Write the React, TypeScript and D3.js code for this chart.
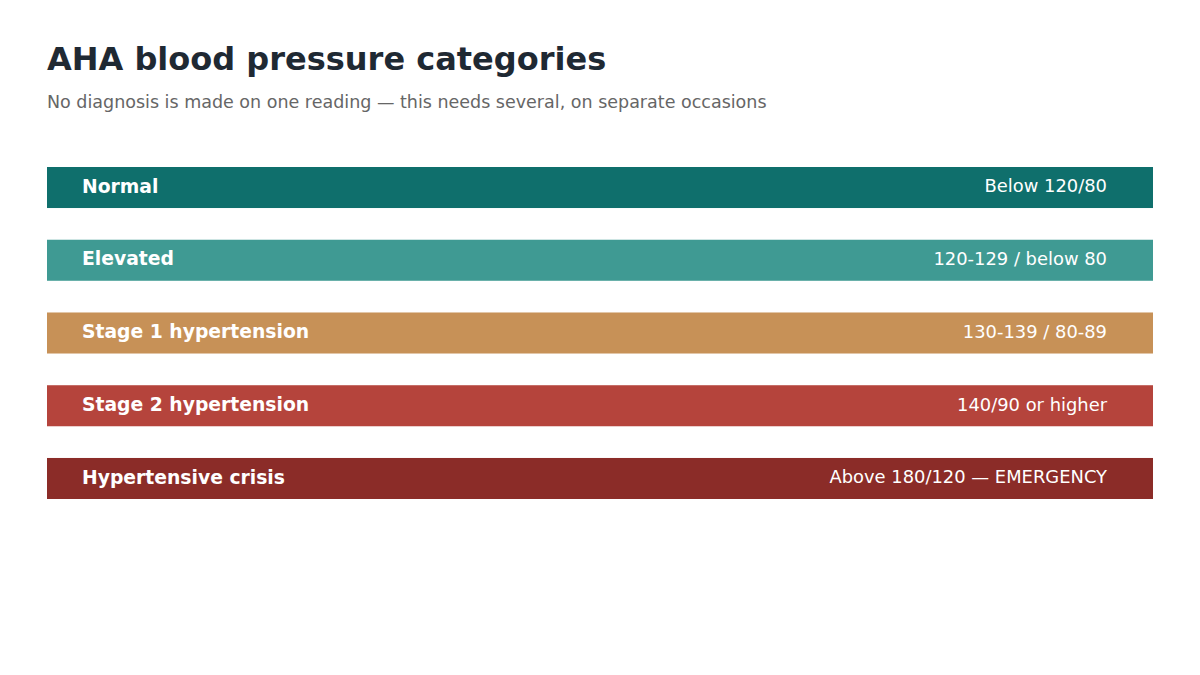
import React from 'react';
import * as d3 from 'd3';

const categories = ['Normal', 'Elevated', 'Stage 1 hypertension', 'Stage 2 hypertension', 'Hypertensive crisis'];
const ranges = ['Below 120/80', '120-129 / below 80', '130-139 / 80-89', '140/90 or higher', 'Above 180/120 — EMERGENCY'];
const colors = ['#0f6f6c', '#3f9a93', '#c79157', '#b5443c', '#8b2c28'];

const width = 1200;
const height = 675;
const margin = { left: 47, right: 47 };
const font = 'DejaVu Sans, sans-serif';

const App: React.FC = () => {
  const y = d3.scaleBand<string>()
    .domain(categories)
    .range([167, 499])
    .paddingInner(0.436)
    .paddingOuter(0);

  const x0 = margin.left;
  const x1 = width - margin.right;

  return (
    <svg width={width} height={height} style={{ position: 'absolute', left: 0, top: 0, background: '#fff' }}>
      <text x={47} y={70} fontFamily={font} fontWeight="bold" fontSize={32} fill="#1f2933">
        AHA blood pressure categories
      </text>
      <text x={47} y={108} fontFamily={font} fontSize={17.5} fill="#666">
        No diagnosis is made on one reading — this needs several, on separate occasions
      </text>
      {categories.map((c, i) => {
        const top = y(c) || 0;
        const mid = top + y.bandwidth() / 2;
        return (
          <g key={c}>
            <rect x={x0} y={top} width={x1 - x0} height={y.bandwidth()} fill={colors[i]} />
            <text x={x0 + 35} y={mid - 1.5} dy="0.35em" fontFamily={font} fontWeight="bold" fontSize={18.75} fill="#fff">
              {c}
            </text>
            <text x={x1 - 46} y={mid - 1.5} dy="0.35em" textAnchor="end" fontFamily={font} fontSize={17.9} fill="#fff">
              {ranges[i]}
            </text>
          </g>
        );
      })}
    </svg>
  );
};

export default App;
